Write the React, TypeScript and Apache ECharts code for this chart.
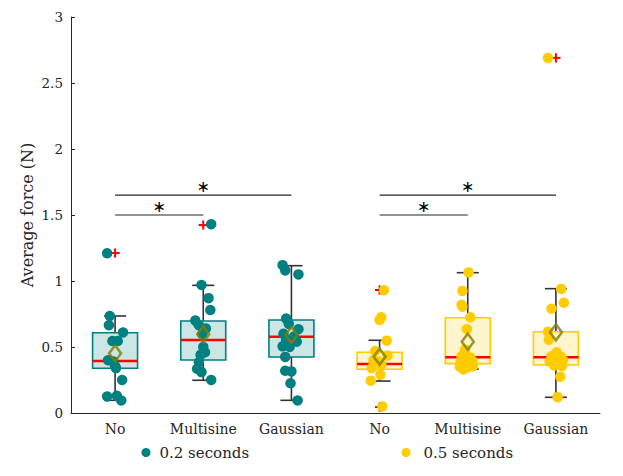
import React, { useEffect, useRef } from "react";
import * as echarts from "echarts";

const categories = ["No", "Multisine", "Gaussian", "No", "Multisine", "Gaussian"];
const yTicks = [0, 0.5, 1, 1.5, 2, 2.5, 3];
const seriesNames = ["0.2 seconds", "0.5 seconds"];
const groupSeries = [0, 0, 0, 1, 1, 1];

const boxMin = [0.096, 0.248, 0.096, 0.242, 0.333, 0.119];
const boxQ1 = [0.339, 0.402, 0.424, 0.331, 0.374, 0.364];
const boxMedian = [0.394, 0.553, 0.578, 0.371, 0.422, 0.422];
const boxQ3 = [0.608, 0.697, 0.705, 0.46, 0.722, 0.616];
const boxMax = [0.735, 0.967, 1.116, 0.551, 1.063, 0.942];
const means = [0.452, 0.596, 0.591, 0.427, 0.54, 0.611];

const outlierGroup = [1, 2, 4, 4, 4, 6];
const outlierValue = [1.212, 1.424, 0.932, 0.72, 0.045, 2.69];

const g1Values = [1.21, 0.735, 0.665, 0.61, 0.545, 0.545, 0.4, 0.39, 0.355, 0.34, 0.25, 0.125, 0.13, 0.095];
const g1Jitter = [-0.09, -0.06, -0.07, 0.09, -0.03, 0.03, -0.08, -0.02, 0, 0.01, 0.08, -0.09, 0.02, 0.07];
const g2Values = [1.43, 0.97, 0.87, 0.78, 0.7, 0.665, 0.64, 0.6, 0.5, 0.46, 0.44, 0.385, 0.335, 0.31, 0.25];
const g2Jitter = [0.09, -0.02, 0.06, 0.08, -0.09, -0.05, 0.03, -0.01, 0, 0.02, -0.03, -0.05, -0.07, -0.02, 0.09];
const g3Values = [1.12, 1.08, 1.05, 0.715, 0.675, 0.635, 0.6, 0.58, 0.555, 0.54, 0.505, 0.5, 0.425, 0.32, 0.315, 0.225, 0.095];
const g3Jitter = [-0.1, -0.07, 0.08, -0.06, -0.03, 0.08, -0.09, 0.03, -0.06, 0.06, -0.1, -0.02, -0.07, -0.07, 0, -0.01, 0.07];
const g4Values = [0.93, 0.725, 0.705, 0.548, 0.47, 0.435, 0.4, 0.39, 0.365, 0.34, 0.29, 0.245, 0.05];
const g4Jitter = [0.05, 0.02, 0, 0.08, -0.05, 0.09, -0.07, -0.01, 0.02, -0.09, 0.01, -0.1, 0.03];
const g5Values = [1.065, 0.925, 0.82, 0.805, 0.725, 0.635, 0.48, 0.43, 0.42, 0.39, 0.395, 0.37, 0.35, 0.355, 0.33, 0.345];
const g5Jitter = [0.01, -0.06, -0.07, -0.06, 0.03, -0.01, -0.03, -0.07, 0.03, -0.08, 0.05, -0.02, -0.09, 0.06, -0.05, 0];
const g6Values = [2.69, 0.94, 0.835, 0.79, 0.615, 0.555, 0.46, 0.43, 0.425, 0.39, 0.4, 0.38, 0.355, 0.36, 0.275, 0.12];
const g6Jitter = [-0.09, 0.06, 0.09, -0.05, -0.09, -0.08, 0.01, -0.05, 0.06, -0.07, 0.08, 0.02, 0.07, -0.02, 0.05, 0.02];

const sigFrom = [1, 1, 4, 4];
const sigTo = [2, 3, 5, 6];
const sigY = [1.5, 1.65, 1.5, 1.65];

const FONT = "DejaVu Serif";
const INK = "#262626";
const pointColors = ["#008080", "#ffcc00"];
const boxFills = ["#cce6e6", "#fff5cc"];
const boxBorders = ["#008080", "#ffcc00"];

function pts(values: number[], jitter: number[], group: number) {
  return values.map((v, i) => [group + jitter[i], v]);
}

export default function App() {
  const ref = useRef<HTMLDivElement>(null);
  useEffect(() => {
    if (!ref.current) return;
    const chart = echarts.init(ref.current, undefined, { renderer: "svg" });

    const boxData = categories.map((_, i) => [
      i + 1, boxMin[i], boxQ1[i], boxMedian[i], boxQ3[i], boxMax[i], groupSeries[i],
    ]);

    const option: any = {
      animation: false,
      backgroundColor: "#ffffff",
      textStyle: { fontFamily: FONT },
      grid: { left: 71, right: 23, top: 17, bottom: 63, containLabel: false },
      legend: [
        {
          data: [{ name: seriesNames[0], icon: "circle" }],
          left: 136.5, top: 440, itemWidth: 9, itemHeight: 9,
          textStyle: { fontFamily: FONT, fontSize: 15, color: INK, padding: [0, 0, 0, 4] },
        },
        {
          data: [{ name: seriesNames[1], icon: "circle" }],
          left: 396.5, top: 440, itemWidth: 9, itemHeight: 9,
          textStyle: { fontFamily: FONT, fontSize: 15, color: INK, padding: [0, 0, 0, 8] },
        },
      ],
      xAxis: [
        {
          type: "category",
          data: categories,
          boundaryGap: true,
          axisLine: { lineStyle: { color: INK, width: 1 } },
          axisTick: { inside: true, alignWithLabel: true, length: 4, lineStyle: { color: INK } },
          axisLabel: { fontFamily: FONT, fontSize: 14, color: INK, margin: 9 },
          splitLine: { show: false },
        },
        {
          type: "value", min: 0.5, max: 6.5, show: false,
          splitLine: { show: false },
        },
      ],
      yAxis: {
        type: "value",
        min: 0, max: 3, interval: 0.5,
        name: "Average force (N)",
        nameLocation: "middle",
        nameGap: 36,
        nameMoveOverlap: false,
        nameTextStyle: { fontFamily: FONT, fontSize: 16, color: INK },
        axisLine: { show: true, lineStyle: { color: INK, width: 1 } },
        axisTick: { show: true, inside: true, length: 4, lineStyle: { color: INK } },
        splitLine: { show: false },
        axisLabel: {
          margin: 8,
          fontFamily: FONT,
          fontSize: 13.5,
          color: INK,
          formatter: (v: number) => {
            const t = yTicks.find((y) => Math.abs(y - v) < 1e-9);
            return String(t !== undefined ? t : v);
          },
        },
      },
      series: [
        {
          type: "custom",
          name: "boxes",
          xAxisIndex: 1,
          z: 1,
          data: boxData,
          renderItem: (params: any, api: any) => {
            const x = api.value(0);
            const c = api.value(6);
            const unit = api.size([1, 0])[0];
            const hw = unit * 0.255;
            const cw = unit * 0.125;
            const pMin = api.coord([x, api.value(1)]);
            const pQ1 = api.coord([x, api.value(2)]);
            const pMed = api.coord([x, api.value(3)]);
            const pQ3 = api.coord([x, api.value(4)]);
            const pMax = api.coord([x, api.value(5)]);
            const wStyle = { stroke: "#333333", lineWidth: 1.6 };
            return {
              type: "group",
              children: [
                { type: "line", shape: { x1: pQ3[0], y1: pQ3[1], x2: pMax[0], y2: pMax[1] }, style: wStyle },
                { type: "line", shape: { x1: pQ1[0], y1: pQ1[1], x2: pMin[0], y2: pMin[1] }, style: wStyle },
                { type: "line", shape: { x1: pMax[0] - cw, y1: pMax[1], x2: pMax[0] + cw, y2: pMax[1] }, style: wStyle },
                { type: "line", shape: { x1: pMin[0] - cw, y1: pMin[1], x2: pMin[0] + cw, y2: pMin[1] }, style: wStyle },
                {
                  type: "rect",
                  shape: { x: pQ3[0] - hw, y: pQ3[1], width: hw * 2, height: pQ1[1] - pQ3[1] },
                  style: { fill: boxFills[c], stroke: boxBorders[c], lineWidth: 1.6 },
                },
                {
                  type: "line",
                  shape: { x1: pMed[0] - hw, y1: pMed[1], x2: pMed[0] + hw, y2: pMed[1] },
                  style: { stroke: "#ff0000", lineWidth: 2.6 },
                },
              ],
            };
          },
        },
        {
          type: "custom",
          name: "outliers",
          xAxisIndex: 1,
          z: 2,
          data: outlierGroup.map((g, i) => [g, outlierValue[i]]),
          renderItem: (params: any, api: any) => {
            const p = api.coord([api.value(0), api.value(1)]);
            const h = 4.6;
            const st = { stroke: "#ff0000", lineWidth: 2 };
            return {
              type: "group",
              children: [
                { type: "line", shape: { x1: p[0] - h, y1: p[1], x2: p[0] + h, y2: p[1] }, style: st },
                { type: "line", shape: { x1: p[0], y1: p[1] - h, x2: p[0], y2: p[1] + h }, style: st },
              ],
            };
          },
        },
        {
          type: "scatter",
          name: seriesNames[0],
          xAxisIndex: 1,
          z: 3,
          symbol: "circle",
          symbolSize: 10.5,
          itemStyle: { color: pointColors[0], opacity: 1 },
          data: [...pts(g1Values, g1Jitter, 1), ...pts(g2Values, g2Jitter, 2), ...pts(g3Values, g3Jitter, 3)],
        },
        {
          type: "scatter",
          name: seriesNames[1],
          xAxisIndex: 1,
          z: 3,
          symbol: "circle",
          symbolSize: 10.5,
          itemStyle: { color: pointColors[1], opacity: 1 },
          data: [...pts(g4Values, g4Jitter, 4), ...pts(g5Values, g5Jitter, 5), ...pts(g6Values, g6Jitter, 6)],
        },
        {
          type: "scatter",
          name: "mean",
          xAxisIndex: 1,
          z: 4,
          symbol: "diamond",
          symbolSize: [12, 16],
          itemStyle: { color: "rgba(0,0,0,0)", borderColor: "#808000", borderWidth: 2.6 },
          data: means.map((m, i) => [i + 1, m]),
        },
        {
          type: "custom",
          name: "significance",
          xAxisIndex: 1,
          z: 5,
          data: sigFrom.map((f, i) => [f, sigTo[i], sigY[i]]),
          renderItem: (params: any, api: any) => {
            const a = api.coord([api.value(0), api.value(2)]);
            const b = api.coord([api.value(1), api.value(2)]);
            return {
              type: "group",
              children: [
                { type: "line", shape: { x1: a[0], y1: a[1], x2: b[0], y2: b[1] }, style: { stroke: INK, lineWidth: 1.2 } },
                {
                  type: "text",
                  x: (a[0] + b[0]) / 2,
                  y: a[1] - 9,
                  style: {
                    text: "∗",
                    fill: "#000000",
                    fontFamily: "DejaVu Sans",
                    fontSize: 16,
                    align: "center",
                    verticalAlign: "middle",
                  },
                },
              ],
            };
          },
        },
      ],
    };
    chart.setOption(option);
    return () => chart.dispose();
  }, []);
  return (
    <div
      ref={ref}
      style={{ position: "absolute", left: 0, top: 0, width: 623, height: 476, background: "#fff" }}
    />
  );
}
